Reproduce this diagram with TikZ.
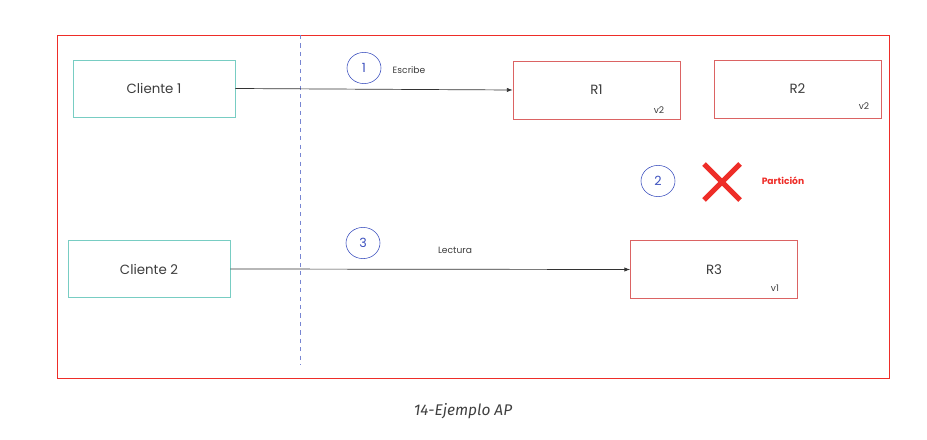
\documentclass[tikz,border=0pt]{standalone}
\usepackage{fontspec}
\setmainfont{Poppins}
\newfontfamily\capfont{Fira Sans}
\usetikzlibrary{arrows.meta}
\definecolor{marco}{RGB}{238,45,40}
\definecolor{cliente}{RGB}{120,205,195}
\definecolor{replica}{RGB}{210,60,60}
\definecolor{paso}{RGB}{60,80,190}
\definecolor{texto}{RGB}{60,60,60}
\tikzset{
  clientebox/.style={draw=cliente, minimum width=4.05cm, minimum height=1.43cm, font=\fontsize{9.5}{11}\selectfont, text=texto},
  replicabox/.style={draw=replica!80, minimum width=4.18cm, minimum height=1.45cm, font=\fontsize{9.5}{11}\selectfont, text=texto},
  paso/.style={draw=paso, ellipse, minimum width=0.85cm, minimum height=0.78cm, inner sep=0pt, text=paso, font=\fontsize{9}{10}\selectfont},
  version/.style={font=\fontsize{6.5}{8}\selectfont, text=texto},
  etiqueta/.style={font=\fontsize{6.5}{8}\selectfont, text=texto},
  flecha/.style={-{Latex[length=4pt,width=3pt]}, draw=black!80, line width=0.5pt}
}
\usetikzlibrary{shapes.geometric}
\begin{document}
\begin{tikzpicture}[x=0.025cm, y=-0.025cm]
	\useasboundingbox (0,0) rectangle (927,440);
	
	% marco y separacion
	\draw[marco, line width=0.6pt] (57,35) rectangle (889,378);
	\coordinate (sepA) at (300,35);
	\coordinate (sepB) at (300,365);
	\draw[paso!70, dashed, line width=0.5pt] (sepA) -- (sepB);
	
	% clientes
	\node[clientebox] (c1) at (154,88.5) {Cliente 1};
	\node[clientebox] (c2) at (149,269) {Cliente 2};
	
	% replicas
	\node[replicabox] (r1) at (596.5,90) {R1};
	\node[replicabox] (r2) at (797.5,89) {R2};
	\node[replicabox] (r3) at (714,269.5) {R3};
	\node[version] (v1) at (659,110) {v2};
	\node[version] (v2) at (864,106) {v2};
	\node[version] (v3) at (775,288) {v1};
	
	% flechas
	\draw[flecha] (c1.east) -- (r1.west);
	\draw[flecha] (c2.east) -- (r3.west);
	
	% pasos
	\node[paso] (p1) at (364,68) {1};
	\node[paso] (p2) at (658,181) {2};
	\node[paso] (p3) at (363,243) {3};
	\node[etiqueta] (escribe) at (409,70) {Escribe};
	\node[etiqueta] (lectura) at (455,250) {Lectura};
	
	% particion
	\node[minimum size=1cm] (cruz) at (722,182) {};
	\draw[marco, line width=3.6pt] (cruz.center) ++(-18,-18) -- ++(36,36);
	\draw[marco, line width=3.6pt] (cruz.center) ++(18,-18) -- ++(-36,36);
	\node[text=marco, font=\bfseries\fontsize{6.5}{8}\selectfont] (part) at (783,181) {Partición};
	
	% titulo
	\node[text=black!75, font=\capfont\itshape\fontsize{11}{13}\selectfont] (titulo) at (463,411) {14-Ejemplo AP};
\end{tikzpicture}
\end{document}
